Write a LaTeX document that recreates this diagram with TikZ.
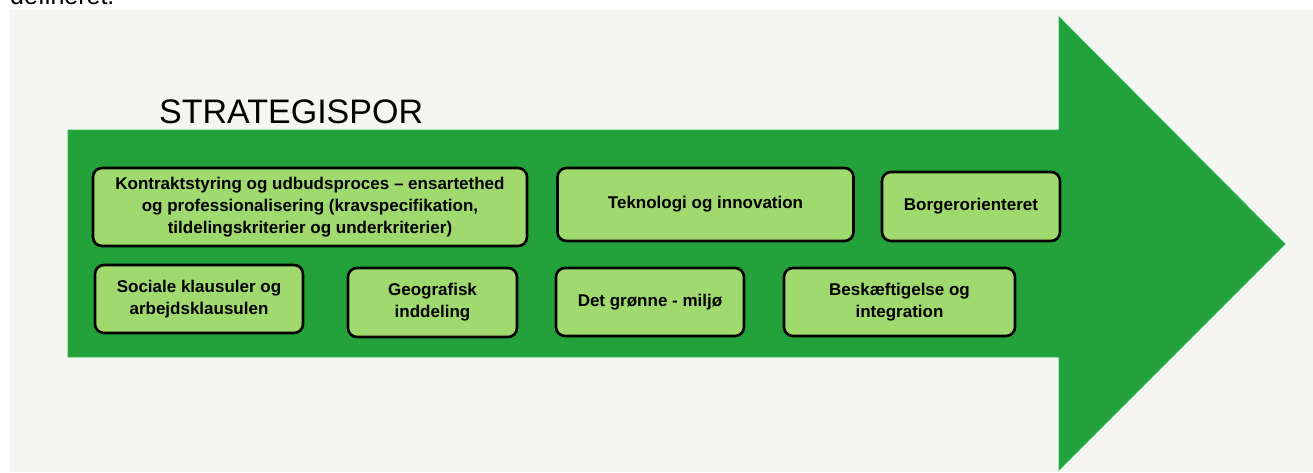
\documentclass[tikz,border=0pt]{standalone}
\usepackage{fontspec}
\setmainfont{Liberation Sans}
\definecolor{bgc}{RGB}{245,246,241}
\definecolor{arrowc}{RGB}{35,162,59}
\definecolor{arrowedge}{RGB}{30,185,80}
\definecolor{boxc}{RGB}{160,218,110}
\tikzset{
  sbox/.style={draw=black, line width=2.6pt, fill=boxc, rounded corners=9pt,
    align=center, inner sep=0pt, font=\bfseries\fontsize{17}{22}\selectfont},
}
\begin{document}
\begin{tikzpicture}[x=1pt,y=-1pt]
\useasboundingbox (0,0) rectangle (1313,472);
\fill[white] (0,0) rectangle (1313,472);
\fill[bgc] (9,10) rectangle (1313,472);
\begin{scope}
\clip (0,0) rectangle (1313,10);
\node[anchor=base west, inner sep=0pt, font=\fontsize{25}{28}\selectfont] (top) at (10,4) {defineret.};
\end{scope}
\fill[arrowc, draw=arrowedge, line width=0.8pt]
  (68,130) -- (1059,130) -- (1059,17) -- (1285,244) -- (1059,470) -- (1059,357) -- (68,357) -- cycle;
\node[anchor=base west, inner sep=0pt, font=\fontsize{34}{40}\selectfont] (title) at (159,123) {STRATEGISPOR};
\node[sbox, minimum width=434pt, minimum height=78pt] (k) at (310,207)
  {Kontraktstyring og udbudsproces – ensartethed\\og professionalisering (kravspecifikation,\\tildelingskriterier og underkriterier)};
\node[sbox, minimum width=296pt, minimum height=73pt] (t) at (705.5,204.5) {Teknologi og innovation};
\node[sbox, minimum width=178pt, minimum height=69pt] (b) at (971,206.5) {Borgerorienteret};
\node[sbox, minimum width=208pt, minimum height=68pt] (s) at (199,299) {Sociale klausuler og\\arbejdsklausulen};
\node[sbox, minimum width=169pt, minimum height=69pt] (g) at (432.5,302.5) {Geografisk\\inddeling};
\node[sbox, minimum width=188pt, minimum height=68pt] (d) at (650,302) {Det grønne - miljø};
\node[sbox, minimum width=231pt, minimum height=68pt] (e) at (899.5,302) {Beskæftigelse og\\integration};
\end{tikzpicture}
\end{document}
